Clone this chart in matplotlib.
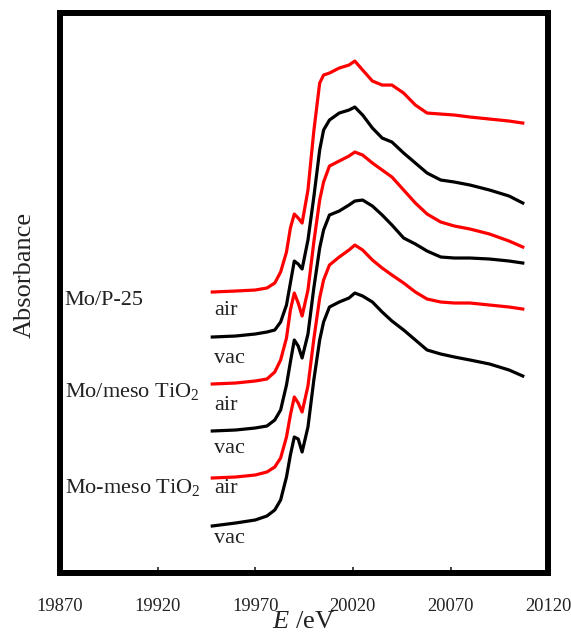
import matplotlib
matplotlib.use("Agg")
import matplotlib.pyplot as plt

plt.rcParams['font.family'] = ['Liberation Serif', 'DejaVu Serif']
plt.rcParams['mathtext.fontset'] = 'custom'
plt.rcParams['mathtext.rm'] = 'Liberation Serif'
plt.rcParams['mathtext.it'] = 'Liberation Serif:italic'

# Energy grid (eV)
energy = [19948, 19960, 19970, 19976, 19980, 19983, 19986, 19988, 19990, 19992,
          19994, 19997, 20000, 20003, 20005, 20008, 20013, 20018, 20021, 20025,
          20030, 20035, 20040, 20046, 20052, 20058, 20065, 20072, 20080, 20090,
          20100, 20107]

# Absorbance (arbitrary units, offset stacked)
p25_air = [281, 282, 283, 285, 290, 301, 321, 345, 359, 355, 350, 383, 442, 490, 498, 500,
           505, 508, 512, 503, 492, 488, 488, 480, 468, 460, 459, 458, 456, 454, 452, 450]
p25_vac = [236, 237, 239, 241, 243, 251, 268, 290, 312, 309, 304, 333, 376, 423, 443, 453,
           460, 463, 466, 458, 445, 435, 431, 420, 410, 400, 393, 391, 388, 383, 377, 370]
meso_air = [189, 190, 192, 194, 201, 213, 235, 263, 280, 270, 257, 283, 331, 373, 391, 407,
            412, 417, 421, 418, 410, 403, 396, 383, 370, 359, 351, 347, 344, 339, 332, 326]
meso_vac = [142, 143, 145, 147, 153, 163, 188, 211, 233, 227, 215, 239, 285, 325, 343, 358,
            362, 368, 372, 373, 367, 358, 348, 335, 329, 322, 316, 315, 315, 314, 312, 310]
dmeso_air = [95, 96, 98, 101, 106, 115, 136, 158, 176, 170, 161, 187, 234, 275, 293, 308,
             316, 323, 328, 323, 313, 305, 298, 290, 281, 274, 271, 270, 270, 268, 266, 264]
dmeso_vac = [47, 50, 53, 57, 63, 73, 96, 118, 136, 134, 121, 146, 193, 233, 251, 266,
             271, 275, 280, 277, 271, 261, 252, 243, 233, 223, 219, 216, 213, 209, 203, 197]

series = [p25_air, p25_vac, meso_air, meso_vac, dmeso_air, dmeso_vac]
colors = ['#ff0000', '#000000', '#ff0000', '#000000', '#ff0000', '#000000']

sample_labels = ['Mo/P-25', 'Mo/meso TiO$_2$', 'Mo-meso TiO$_2$']
sample_label_y = [268, 176, 80]
cond_labels = ['air', 'vac', 'air', 'vac', 'air', 'vac']
cond_label_y = [258, 210, 163, 120, 80, 30]

xticks = [19870, 19920, 19970, 20020, 20070, 20120]

fig = plt.figure(figsize=(5.71, 6.37), dpi=100)
ax = fig.add_axes([0.105, 0.1005, 0.855, 0.879])

for s, c in zip(series, colors):
    ax.plot(energy, s, color=c, lw=2.3, solid_joinstyle='round')

for lab, y in zip(sample_labels, sample_label_y):
    ax.text(19872.5, y, lab, fontsize=16, ha='left', va='baseline', color='#222222')
for lab, y in zip(cond_labels, cond_label_y):
    ax.text(19949, y, lab, fontsize=16, ha='left', va='baseline', color='#222222')

ax.set_xlim(19870, 20120)
ax.set_ylim(0, 560)
ax.set_xticks(xticks)
ax.set_xticklabels([str(t) for t in xticks])
ax.set_yticks([])
ax.tick_params(axis='x', direction='in', length=4.5, width=1.2, pad=18, labelsize=13.3,
               colors='#222222')
for sp in ax.spines.values():
    sp.set_linewidth(4.3)
    sp.set_color('black')

fig.text(0.044, 0.568, 'Absorbance', rotation=90, ha='center', va='center',
         fontsize=19, color='#222222')
fig.text(0.532, 0.014, r'$\mathit{E}$ /eV', ha='center', va='baseline',
         fontsize=19, color='#222222')

fig.savefig('out.png', dpi=100)
